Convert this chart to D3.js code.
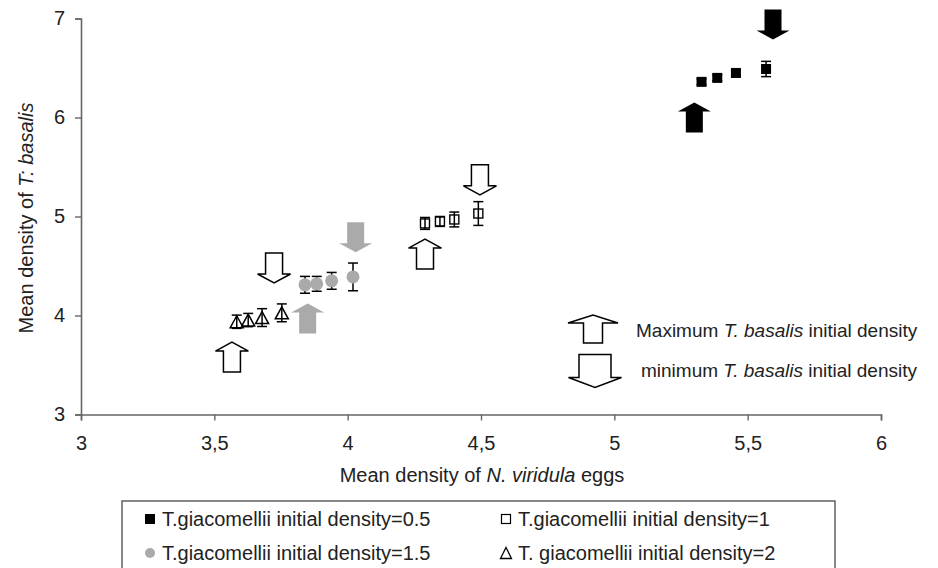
<!DOCTYPE html>
<html>
<head>
<meta charset="utf-8">
<script src="https://cdn.jsdelivr.net/npm/d3@7"></script>
<style>
  body { margin: 0; background: #fff; }
  text { font-family: "Liberation Sans", Arial, sans-serif; fill: #222; }
</style>
</head>
<body>
<div id="chart"></div>
<script>
// series (mean density of eggs vs mean density of T. basalis)
const seriesNames = ["T.giacomellii initial density=0.5", "T.giacomellii initial density=1",
                     "T.giacomellii initial density=1.5", "T. giacomellii initial density=2"];
const xBlack = [5.327, 5.386, 5.456, 5.569];
const yBlack = [6.36, 6.40, 6.45, 6.49];
const eBlack = [0.03, 0.03, 0.03, 0.077];
const xOpen = [4.29, 4.346, 4.40, 4.49];
const yOpen = [4.93, 4.95, 4.97, 5.03];
const eOpen = [0.06, 0.05, 0.075, 0.12];
const xGray = [3.84, 3.884, 3.94, 4.02];
const yGray = [4.31, 4.32, 4.35, 4.39];
const eGray = [0.085, 0.075, 0.085, 0.14];
const xTri = [3.584, 3.627, 3.679, 3.753];
const yTri = [3.937, 3.954, 3.979, 4.027];
const eTri = [0.067, 0.067, 0.09, 0.09];

// initial density arrows (centre position, direction, series)
const arrowX = [3.566, 3.724, 3.85, 4.03, 4.29, 4.496, 5.30, 5.595];
const arrowY = [3.58, 4.48, 3.97, 4.79, 4.62, 5.37, 6.0, 6.94];
const arrowDir = ["up", "down", "up", "down", "up", "down", "up", "down"];
const arrowKind = ["open", "open", "gray", "gray", "open", "open", "black", "black"];

const xTickValues = [3, 3.5, 4, 4.5, 5, 5.5, 6];
const xTickLabels = ["3", "3,5", "4", "4,5", "5", "5,5", "6"];
const yTickValues = [3, 4, 5, 6, 7];

const width = 938;
const height = 568;

const svg = d3.select("#chart")
  .append("svg")
  .attr("width", width)
  .attr("height", height);

const x = d3.scaleLinear().domain([3, 6]).range([81, 881]);
const y = d3.scaleLinear().domain([3, 7]).range([414.5, 18.5]);

// axes
const xAxis = svg.append("g")
  .attr("transform", "translate(0," + y(3) + ")")
  .call(d3.axisBottom(x).tickValues(xTickValues)
    .tickFormat((d, i) => xTickLabels[i]).tickSize(6).tickPadding(15));
const yAxis = svg.append("g")
  .attr("transform", "translate(" + x(3) + ",0)")
  .call(d3.axisLeft(y).tickValues(yTickValues).tickFormat(d3.format("d"))
    .tickSize(6).tickPadding(10));

[xAxis, yAxis].forEach(function (a) {
  a.select(".domain").attr("stroke", "#666").attr("stroke-width", 1.6);
  a.selectAll(".tick line").attr("stroke", "#666").attr("stroke-width", 1.4);
  a.selectAll(".tick text").style("font-size", "20px").attr("fill", "#222");
});

// axis titles
svg.append("text")
  .attr("x", 482).attr("y", 482)
  .attr("text-anchor", "middle")
  .style("font-size", "20px")
  .html('Mean density of <tspan font-style="italic">N. viridula</tspan> eggs');

svg.append("text")
  .attr("transform", "translate(33,218) rotate(-90)")
  .attr("text-anchor", "middle")
  .style("font-size", "20px")
  .html('Mean density of <tspan font-style="italic">T: basalis</tspan>');

// block arrow path, centred on (cx, cy)
function arrowPath(cx, cy, dir, w, sw, h, hh) {
  const s = dir === "up" ? -1 : 1;
  const tip = cy + s * h / 2;
  const base = cy - s * h / 2;
  const neck = tip - s * hh;
  return "M" + (cx - sw / 2) + "," + base +
    "L" + (cx + sw / 2) + "," + base +
    "L" + (cx + sw / 2) + "," + neck +
    "L" + (cx + w / 2) + "," + neck +
    "L" + cx + "," + tip +
    "L" + (cx - w / 2) + "," + neck +
    "L" + (cx - sw / 2) + "," + neck + "Z";
}

const arrowFill = { open: "#fff", gray: "#aaa", black: "#000" };

svg.selectAll(".arrow")
  .data(arrowX)
  .enter()
  .append("path")
  .attr("class", "arrow")
  .attr("d", (d, i) => arrowPath(x(d), y(arrowY[i]), arrowDir[i], 33, 17, 30, 9))
  .attr("fill", (d, i) => arrowFill[arrowKind[i]])
  .attr("stroke", (d, i) => arrowKind[i] === "open" ? "#000" : "none")
  .attr("stroke-width", 1.5);

// error bars
function errorBars(xs, ys, es) {
  const g = svg.append("g").attr("stroke", "#000").attr("stroke-width", 1.5);
  xs.forEach(function (xv, i) {
    const px = x(xv);
    const top = y(ys[i] + es[i]);
    const bot = y(ys[i] - es[i]);
    g.append("line").attr("x1", px).attr("x2", px).attr("y1", top).attr("y2", bot);
    g.append("line").attr("x1", px - 5).attr("x2", px + 5).attr("y1", top).attr("y2", top);
    g.append("line").attr("x1", px - 5).attr("x2", px + 5).attr("y1", bot).attr("y2", bot);
  });
}
errorBars(xBlack, yBlack, eBlack);
errorBars(xOpen, yOpen, eOpen);
errorBars(xGray, yGray, eGray);
errorBars(xTri, yTri, eTri);

// markers
svg.selectAll(".blk")
  .data(xBlack)
  .enter()
  .append("rect")
  .attr("x", d => x(d) - 5)
  .attr("y", (d, i) => y(yBlack[i]) - 5)
  .attr("width", 10).attr("height", 10)
  .attr("fill", "#000");

svg.selectAll(".opn")
  .data(xOpen)
  .enter()
  .append("rect")
  .attr("x", d => x(d) - 4.5)
  .attr("y", (d, i) => y(yOpen[i]) - 4.5)
  .attr("width", 9).attr("height", 9)
  .attr("fill", "none")
  .attr("stroke", "#000")
  .attr("stroke-width", 1.4);

svg.selectAll(".gry")
  .data(xGray)
  .enter()
  .append("circle")
  .attr("cx", d => x(d))
  .attr("cy", (d, i) => y(yGray[i]))
  .attr("r", 6.5)
  .attr("fill", "#aaa");

function triPath(cx, cy, w, h) {
  return "M" + cx + "," + (cy - h / 2) + "L" + (cx + w / 2) + "," + (cy + h / 2) +
    "L" + (cx - w / 2) + "," + (cy + h / 2) + "Z";
}
svg.selectAll(".tri")
  .data(xTri)
  .enter()
  .append("path")
  .attr("d", (d, i) => triPath(x(d), y(yTri[i]), 13, 12))
  .attr("fill", "none")
  .attr("stroke", "#000")
  .attr("stroke-width", 1.5);

// arrow legend inside plot
svg.append("path")
  .attr("d", arrowPath(593, 329, "up", 50, 19, 28, 8))
  .attr("fill", "#fff").attr("stroke", "#000").attr("stroke-width", 1.5);
svg.append("path")
  .attr("d", arrowPath(595, 371, "down", 53, 32, 33, 10))
  .attr("fill", "#fff").attr("stroke", "#000").attr("stroke-width", 1.5);

svg.append("text")
  .attr("x", 636).attr("y", 337)
  .style("font-size", "19px")
  .html('Maximum <tspan font-style="italic">T. basalis</tspan>  initial density');
svg.append("text")
  .attr("x", 641).attr("y", 377)
  .style("font-size", "19px")
  .html('minimum <tspan font-style="italic">T. basalis</tspan>  initial density');

// bottom legend
svg.append("rect")
  .attr("x", 122).attr("y", 501)
  .attr("width", 713).attr("height", 80)
  .attr("fill", "none")
  .attr("stroke", "#555")
  .attr("stroke-width", 1.4);

const legX = [150, 506, 150, 506];
const legY = [519, 519, 553, 553];

svg.append("rect").attr("x", legX[0] - 5).attr("y", legY[0] - 5)
  .attr("width", 10).attr("height", 10).attr("fill", "#000");
svg.append("rect").attr("x", legX[1] - 4.5).attr("y", legY[1] - 4.5)
  .attr("width", 9).attr("height", 9).attr("fill", "none")
  .attr("stroke", "#000").attr("stroke-width", 1.2);
svg.append("circle").attr("cx", legX[2]).attr("cy", legY[2])
  .attr("r", 5).attr("fill", "#aaa");
svg.append("path").attr("d", triPath(legX[3], legY[3], 11, 11))
  .attr("fill", "none").attr("stroke", "#000").attr("stroke-width", 1.3);

svg.selectAll(".legtext")
  .data(seriesNames)
  .enter()
  .append("text")
  .attr("x", (d, i) => legX[i] + 12)
  .attr("y", (d, i) => legY[i] + 7)
  .style("font-size", "20px")
  .text(d => d);
</script>
</body>
</html>
